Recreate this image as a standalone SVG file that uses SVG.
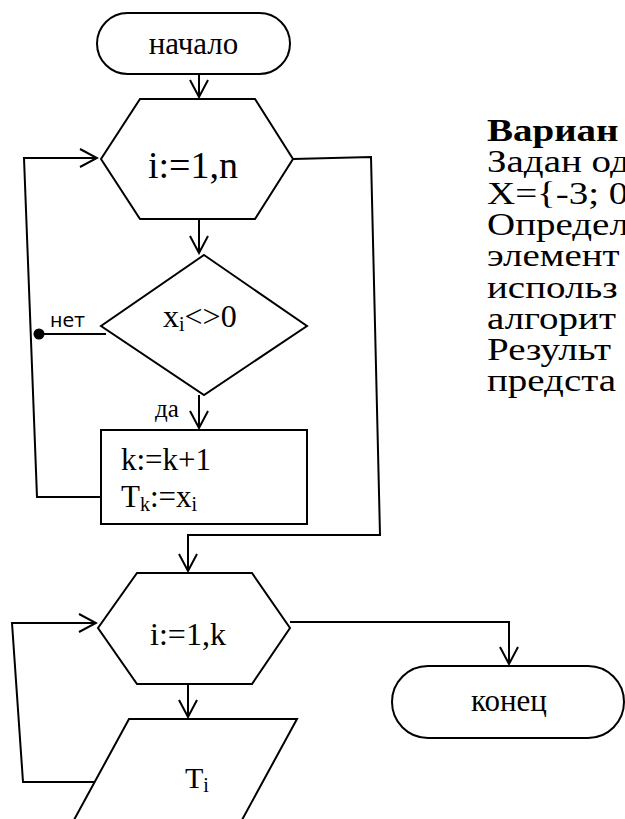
<svg xmlns="http://www.w3.org/2000/svg" width="625" height="819" viewBox="0 0 625 819">
  <style>
    .shape { fill: #fff; stroke: #000; stroke-width: 2; }
    .line { fill: none; stroke: #000; stroke-width: 2; }
    .arrow { marker-end: url(#arr); }
    .t { font-family: "Liberation Serif", "Times New Roman", "DejaVu Serif", serif; fill: #000; }
    .s { font-family: "DejaVu Sans", "Liberation Sans", sans-serif; fill: #000; }
  </style>
  <defs>
    <marker id="arr" viewBox="0 0 20 20" markerWidth="20" markerHeight="20" refX="18" refY="10" orient="auto" markerUnits="userSpaceOnUse">
      <path d="M1,1 L18,10 L1,19" fill="none" stroke="#000" stroke-width="2"/>
    </marker>
  </defs>
  <rect width="625" height="819" fill="#fff"/>

  <!-- connectors -->
  <g id="connectors">
    <line class="line arrow" x1="199" y1="74" x2="199" y2="97"/>
    <line class="line arrow" x1="199" y1="219" x2="199" y2="253"/>
    <line class="line arrow" x1="199" y1="395" x2="199" y2="428"/>
    <polyline class="line arrow" points="101,497 37,497 24,158 97,158"/>
    <line class="line" x1="106" y1="334" x2="39" y2="334"/>
    <circle cx="39" cy="334" r="5.5" fill="#000"/>
    <polyline class="line arrow" points="293,159 371,157 380,535 188,535 188,571"/>
    <line class="line arrow" x1="188" y1="684" x2="188" y2="717"/>
    <polyline class="line arrow" points="95,782 23,782 12,623 96,623"/>
    <polyline class="line arrow" points="290,622 509,622 509,664"/>
  </g>

  <g id="start">
    <rect class="shape" x="97" y="13" width="193" height="61" rx="30.5"/>
    <text class="t" x="193.5" y="54" font-size="31" text-anchor="middle">начало</text>
  </g>

  <g id="loop-n">
    <polygon class="shape" points="140,99 255,99 293,159 255,219 140,219 101,159"/>
    <text class="t" x="193" y="178" font-size="38" text-anchor="middle">i:=1,n</text>
  </g>

  <g id="check">
    <polygon class="shape" points="204,255 307,326 204,395 101,326"/>
    <text class="t" x="163" y="327" font-size="32">x<tspan font-size="20" dy="4">i</tspan><tspan dy="-4">&lt;&gt;0</tspan></text>
    <text class="s" x="50" y="327" font-size="19">нет</text>
    <text class="t" x="155" y="417" font-size="25">да</text>
  </g>

  <g id="assign">
    <rect class="shape" x="101" y="430" width="206" height="94"/>
    <text class="t" x="121" y="470" font-size="31">k:=k+1</text>
    <text class="t" x="121" y="507" font-size="31">T<tspan font-size="20" dy="4">k</tspan><tspan dy="-4">:=x</tspan><tspan font-size="20" dy="4">i</tspan></text>
  </g>

  <g id="loop-k">
    <polygon class="shape" points="137,573 252,573 290,628 252,684 137,684 98,628"/>
    <text class="t" x="188" y="645" font-size="32" text-anchor="middle">i:=1,k</text>
  </g>

  <g id="output">
    <polygon class="shape" points="129,719 297,719 236.5,830 68.5,830"/>
    <text class="t" x="185" y="788" font-size="30">T<tspan font-size="20" dy="4">i</tspan></text>
  </g>

  <g id="end">
    <rect class="shape" x="392" y="666" width="232" height="72" rx="36"/>
    <text class="t" x="509" y="711" font-size="31" text-anchor="middle">конец</text>
  </g>

  <!-- task statement: wide type, compressed vertically -->
  <g id="task" class="t" font-size="39" transform="matrix(1,0,0,0.8,0,0)">
    <text x="487" y="176.3" font-weight="bold">Вариан</text>
    <text x="487" y="215.4">Задан од</text>
    <text x="487" y="254.5">X={-3; 0</text>
    <text x="487" y="293.6">Определ</text>
    <text x="487" y="332.8">элемент</text>
    <text x="487" y="371.9">использ</text>
    <text x="487" y="411">алгорит</text>
    <text x="487" y="450.1">Результ</text>
    <text x="487" y="489.3">предста</text>
  </g>
</svg>
